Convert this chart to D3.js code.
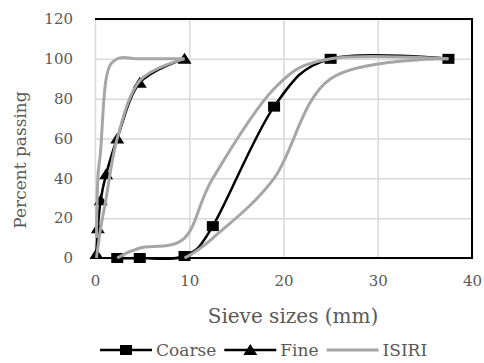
<!DOCTYPE html>
<html>
<head>
<meta charset="utf-8">
<script src="https://cdn.jsdelivr.net/npm/d3@7"></script>
<style>
  body { margin: 0; background: #fff; }
  svg { display: block; }
  text { font-family: "DejaVu Serif", serif; fill: #595959; }
</style>
</head>
<body>
<div id="chart"></div>
<script>
// sieve sizes in mm
var sieves = [0.15, 0.3, 0.6, 1.18, 2.36, 4.75, 9.5];
var coarseSieves = [2.36, 4.75, 9.5, 12.5, 19, 25, 37.5];

// percent passing
var fine = [2, 15, 29, 42, 60, 88, 100];
var coarse = [0, 0, 1, 16, 76, 100, 100];

// ISIRI grading limits
var isiriFineLower = [0, 5, 15, 30, 60, 89, 100];
var isiriFineUpper = [10, 40, 54, 90, 100, 100, 100];
var isiriCoarseLowerSieves = [9.5, 12.5, 19, 25, 37.5];
var isiriCoarseLower = [0, 10, 40, 90, 100];
var isiriCoarseUpper = [0, 5, 10, 40, 85, 100, 100];

var xTicks = [0, 10, 20, 30, 40];
var yTicks = [0, 20, 40, 60, 80, 100, 120];

var width = 484,
    height = 363;

var x = d3.scaleLinear().domain([0, 40]).range([95, 472]);
var y = d3.scaleLinear().domain([0, 120]).range([258, 19]);

var svg = d3.select("#chart").append("svg")
    .attr("width", width)
    .attr("height", height);

// grid
svg.append("g")
    .attr("transform", "translate(0," + y(0) + ")")
    .call(d3.axisBottom(x).tickValues(xTicks).tickSize(-(y(0) - y(120))).tickFormat(""))
    .call(g => g.select(".domain").remove())
    .selectAll("line")
    .attr("stroke", "#d9d9d9")
    .attr("stroke-width", 1.5);

svg.append("g")
    .attr("transform", "translate(" + x(0) + ",0)")
    .call(d3.axisLeft(y).tickValues(yTicks).tickSize(-(x(40) - x(0))).tickFormat(""))
    .call(g => g.select(".domain").remove())
    .selectAll("line")
    .attr("stroke", "#d9d9d9")
    .attr("stroke-width", 1.5);

// frame: top, right, bottom
svg.append("path")
    .attr("d", "M" + x(0) + "," + y(120) + "H" + x(40) + "V" + y(0) + "H" + x(0))
    .attr("fill", "none")
    .attr("stroke", "#000")
    .attr("stroke-width", 2);

// tick labels
svg.append("g")
    .attr("transform", "translate(0," + y(0) + ")")
    .call(d3.axisBottom(x).tickValues(xTicks).tickSize(0).tickPadding(17))
    .call(g => g.select(".domain").remove())
    .selectAll("text")
    .style("font-family", "DejaVu Serif")
    .style("font-size", "15px")
    .attr("fill", "#595959");

svg.append("g")
    .attr("transform", "translate(" + x(0) + ",0)")
    .call(d3.axisLeft(y).tickValues(yTicks).tickSize(0).tickPadding(22))
    .call(g => g.select(".domain").remove())
    .selectAll("text")
    .style("font-family", "DejaVu Serif")
    .style("font-size", "15px")
    .attr("fill", "#595959");

// axis titles
svg.append("text")
    .attr("x", 293)
    .attr("y", 323)
    .attr("text-anchor", "middle")
    .style("font-size", "20px")
    .text("Sieve sizes (mm)");

svg.append("text")
    .attr("transform", "translate(26,160) rotate(-90)")
    .attr("text-anchor", "middle")
    .style("font-size", "17px")
    .text("Percent passing");

var smooth = d3.line()
    .x(d => x(d[0]))
    .y(d => y(d[1]))
    .curve(d3.curveCardinal.tension(0));

var plot = svg.append("g");

function series(xs, ys, color, w) {
    plot.append("path")
        .datum(d3.zip(xs, ys))
        .attr("d", smooth)
        .attr("fill", "none")
        .attr("stroke", color)
        .attr("stroke-width", w);
}

function squares(xs, ys) {
    plot.selectAll(null)
        .data(d3.zip(xs, ys))
        .enter()
        .append("rect")
        .attr("x", d => x(d[0]) - 6)
        .attr("y", d => y(d[1]) - 5)
        .attr("width", 12)
        .attr("height", 10)
        .attr("fill", "#000");
}

function triangles(xs, ys) {
    plot.selectAll(null)
        .data(d3.zip(xs, ys))
        .enter()
        .append("path")
        .attr("d", d => "M" + (x(d[0]) - 7) + "," + (y(d[1]) + 5) + "L" + x(d[0]) + "," + (y(d[1]) - 6) + "L" + (x(d[0]) + 7) + "," + (y(d[1]) + 5) + "Z")
        .attr("fill", "#000");
}

series(coarseSieves, coarse, "#000", 2.5);
squares(coarseSieves, coarse);
series(sieves, fine, "#000", 2.5);
triangles(sieves, fine);

series(sieves, isiriFineLower, "#a6a6a6", 3);
series(sieves, isiriFineUpper, "#a6a6a6", 3);
series(isiriCoarseLowerSieves, isiriCoarseLower, "#a6a6a6", 3);
series(coarseSieves, isiriCoarseUpper, "#a6a6a6", 3);

// legend
var legendItems = [
    { name: "Coarse", color: "#000", marker: "square" },
    { name: "Fine", color: "#000", marker: "triangle" },
    { name: "ISIRI", color: "#a6a6a6", marker: "none" }
];

var legend = svg.append("g");
var lx = 100,
    ly = 350;

legendItems.forEach(function (item) {
    legend.append("line")
        .attr("x1", lx)
        .attr("x2", lx + 52)
        .attr("y1", ly)
        .attr("y2", ly)
        .attr("stroke", item.color)
        .attr("stroke-width", item.marker == "none" ? 3 : 2.5);
    if (item.marker == "square") {
        legend.append("rect")
            .attr("x", lx + 20)
            .attr("y", ly - 5)
            .attr("width", 12)
            .attr("height", 10)
            .attr("fill", "#000");
    } else if (item.marker == "triangle") {
        legend.append("path")
            .attr("d", "M" + (lx + 19) + "," + (ly + 5) + "L" + (lx + 26) + "," + (ly - 6) + "L" + (lx + 33) + "," + (ly + 5) + "Z")
            .attr("fill", "#000");
    }
    var t = legend.append("text")
        .attr("x", lx + 56)
        .attr("y", ly + 6)
        .style("font-size", "17px")
        .text(item.name);
    lx += 56 + t.node().getComputedTextLength() + 8;
});
</script>
</body>
</html>
